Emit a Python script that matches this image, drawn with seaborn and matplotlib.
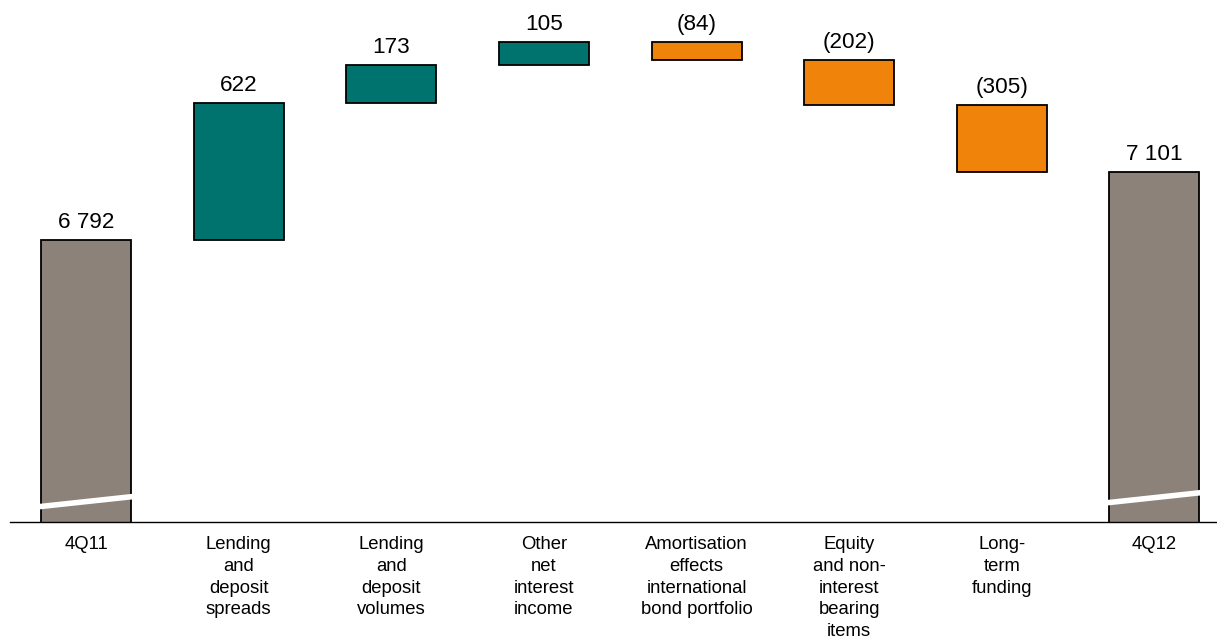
import numpy as np
import pandas as pd
import matplotlib
matplotlib.use("Agg")
import matplotlib.pyplot as plt
import seaborn as sns

categories = ["4Q11", "Lending\nand\ndeposit\nspreads", "Lending\nand\ndeposit\nvolumes",
              "Other\nnet\ninterest\nincome", "Amortisation\neffects\ninternational\nbond portfolio",
              "Equity\nand non-\ninterest\nbearing\nitems", "Long-\nterm\nfunding", "4Q12"]
start_value = 6792
changes = [622, 173, 105, -84, -202, -305]
end_value = 7101
value_labels = ["6 792", "622", "173", "105", "(84)", "(202)", "(305)", "7 101"]

axis_base = 5511
axis_top = 7882

GREY = "#8C8279"
TEAL = "#00736F"
ORANGE = "#F0830A"

# waterfall geometry from the data
bottoms, heights, colors = [0], [start_value], [GREY]
cum = start_value
for c in changes:
    if c >= 0:
        bottoms.append(cum); heights.append(c); colors.append(TEAL)
    else:
        bottoms.append(cum + c); heights.append(-c); colors.append(ORANGE)
    cum += c
bottoms.append(0); heights.append(end_value); colors.append(GREY)
tops = [b + h for b, h in zip(bottoms, heights)]

sns.set_theme(style="white")
plt.rcParams["font.family"] = ["Liberation Sans", "DejaVu Sans"]

fig = plt.figure(figsize=(12.17, 6.39), dpi=100)
ax = fig.add_axes([10 / 1217, 117 / 639, 1207 / 1217, 522 / 639])

df = pd.DataFrame({"cat": categories, "h": heights})
sns.barplot(data=df, x="cat", y="h", order=categories, bottom=bottoms, width=0.59,
            color=GREY, edgecolor="black", linewidth=1.3, ax=ax, errorbar=None)
for p, col in zip(ax.patches, colors):
    p.set_facecolor(col)
    p.set_alpha(1)

ax.set_xlim(-0.498, 7.41)
ax.set_ylim(axis_base, axis_top)

for i, (t, lab) in enumerate(zip(tops, value_labels)):
    ax.annotate(lab, (i, t), xytext=(0, 5), textcoords="offset points",
                ha="center", va="bottom", fontsize=16.2, color="black")

# axis-break marks on the total bars
break_marks = {0: (5579, 5629), 7: (5597, 5647)}
for i, (y0, y1) in break_marks.items():
    ax.plot([i - 0.33, i + 0.34], [y0, y1], color="white", lw=4, solid_capstyle="butt", zorder=5)

for s in ["left", "right", "top"]:
    ax.spines[s].set_visible(False)
ax.spines["bottom"].set_color("black")
ax.spines["bottom"].set_linewidth(1.0)
ax.set_yticks([])
ax.set_xlabel("")
ax.set_ylabel("")
ax.tick_params(axis="x", length=0, pad=10, labelsize=13.3, labelcolor="black")
for lbl in ax.get_xticklabels():
    lbl.set_linespacing(1.37)

fig.savefig("out.png", dpi=100)
